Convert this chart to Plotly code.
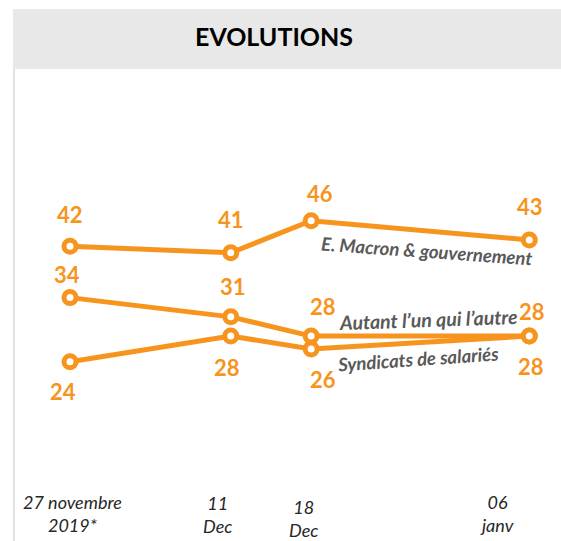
import plotly.graph_objects as go

# ---- data ----
dates = ["2019-11-27", "2019-12-11", "2019-12-18", "2020-01-06"]
tick_labels = ["27 novembre<br>2019*", "11<br>Dec", "18<br>Dec", "06<br>janv"]
series_names = ["E. Macron & gouvernement", "Autant l’un qui l’autre", "Syndicats de salariés"]
macron = [42, 41, 46, 43]
autant = [34, 31, 28, 28]
syndicats = [24, 28, 26, 28]
title_text = "EVOLUTIONS"

# ---- styles ----
ORANGE = "#F7941E"
FONT = "Lato"
W, H = 561, 541


def px(x):
    return x / W


def py(y):
    return 1 - y / H


series = [macron, autant, syndicats]
# per-point value label offsets (xshift, yshift) in px
label_offsets = [
    [(0, 32), (0, 33), (9, 27), (1, 33)],
    [(-3, 23), (2, 30), (12, 30), (3, 25)],
    [(-7, -30), (-4, -31), (12, -31), (2, -30)],
]
# series name label placement (page x, page y, angle, size)
name_pos = [(427, 251, 4, 18.5), (428, 319, -2, 19.5), (418, 359, -4, 18.5)]
# tick label shifts (xshift px, page y center)
tick_pos = [(2, 513), (-13, 514), (-8, 518), (-32, 513)]

fig = go.Figure()
for vals in series:
    fig.add_trace(go.Scatter(
        x=dates, y=vals, mode="lines+markers",
        line=dict(color=ORANGE, width=5),
        marker=dict(symbol="circle", size=12, color="white",
                    line=dict(color=ORANGE, width=5)),
        showlegend=False, hoverinfo="skip",
    ))

ann = []
for vals, offs in zip(series, label_offsets):
    for d, v, (dx, dy) in zip(dates, vals, offs):
        ann.append(dict(x=d, y=v, text=str(v), showarrow=False,
                        xanchor="center", yanchor="middle",
                        xshift=dx, yshift=dy,
                        font=dict(family=FONT, size=22, color=ORANGE, weight="bold")))

for name, (x, y, ang, sz) in zip(series_names, name_pos):
    ann.append(dict(x=px(x), y=py(y), xref="paper", yref="paper",
                    text="<b><i>" + name + "</i></b>", showarrow=False,
                    textangle=ang, xanchor="center", yanchor="middle",
                    font=dict(family=FONT, size=sz, color="#595959")))

for d, t, (dx, y) in zip(dates, tick_labels, tick_pos):
    ann.append(dict(x=d, y=py(y), yref="paper",
                    text="<i>" + t + "</i>", showarrow=False,
                    xanchor="center", yanchor="middle", xshift=dx,
                    font=dict(family=FONT, size=18, color="#262626")))

ann.append(dict(x=px(274), y=py(36), xref="paper", yref="paper",
                text="<b>" + title_text + "</b>", showarrow=False,
                xanchor="center", yanchor="middle",
                font=dict(family=FONT, size=25, color="black")))

shapes = [
    dict(type="rect", xref="paper", yref="paper",
         x0=px(13), x1=1, y0=py(69), y1=py(9),
         fillcolor="#E8E8E8", line=dict(width=0), layer="below"),
    dict(type="line", xref="paper", yref="paper",
         x0=px(14), x1=px(14), y0=0, y1=py(69),
         line=dict(color="#D9D9D9", width=1.5)),
]

# axis ranges from pixel calibration: Nov 27 at x=70, 11.48 px/day;
# value 46 at y=220.7, 6.41 px per unit
top = 46 + 220.7 / 6.41
bottom = 46 - (H - 220.7) / 6.41

fig.update_layout(
    width=W, height=H,
    margin=dict(l=0, r=0, t=0, b=0),
    paper_bgcolor="white", plot_bgcolor="white",
    xaxis=dict(type="date", range=["2019-11-20 21:38", "2020-01-08 18:16"],
               visible=False, fixedrange=True),
    yaxis=dict(range=[bottom, top], visible=False, fixedrange=True),
    annotations=ann, shapes=shapes,
)

fig.write_html(
    "out.html",
    config={"displayModeBar": False},
    post_script="document.body.style.margin='0';"
                "document.body.style.overflow='hidden';"
                "document.documentElement.style.overflow='hidden';",
)
